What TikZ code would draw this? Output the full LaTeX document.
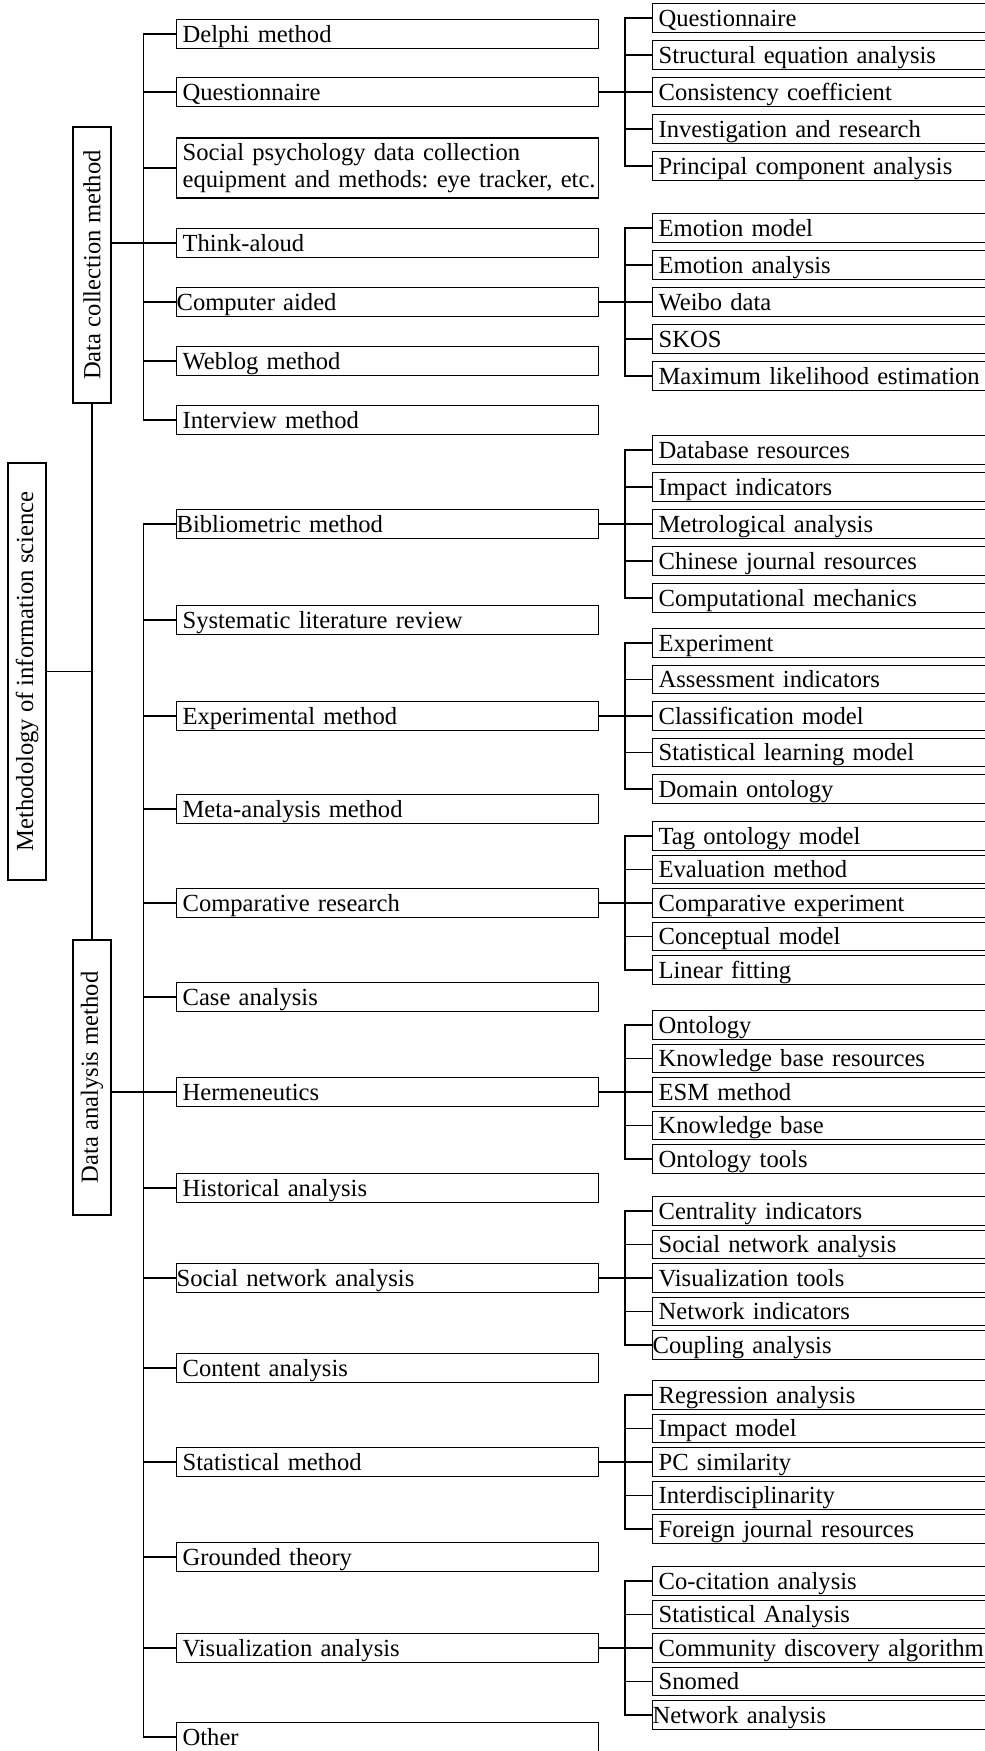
\documentclass[tikz,border=0pt]{standalone}
\usepackage{fontspec}
\setmainfont{Liberation Serif}
\begin{document}
\frenchspacing
\begin{tikzpicture}[x=1pt,y=-1pt,
  every node/.style={font=\fontsize{24.6}{27.5}\selectfont\frenchspacing},
  boxbase/.style={draw, line width=1.2pt, rectangle, inner ysep=0pt, align=left, anchor=west},
  oneline/.style={text height=22.5pt, text depth=6pt},
  mainbox/.style={boxbase, oneline, text width=410pt, inner xsep=6pt},
  mainflush/.style={boxbase, oneline, text width=422pt, inner xsep=0pt},
  subbox/.style={boxbase, oneline, text width=340pt, inner xsep=6pt},
  subflush/.style={boxbase, oneline, text width=352pt, inner xsep=0pt},
  vbox/.style={draw, line width=1.2pt, rectangle, rotate=90, inner sep=0pt, minimum height=38pt},
  conn/.style={line width=1.2pt},
]
\useasboundingbox (0,0) rectangle (985,1751);
\clip (0,0) rectangle (985,1751);

% ---- category boxes (vertical text)
\node[vbox, minimum width=417pt] (m) at (27,671.5) {Methodology of information science};
\node[vbox, minimum width=276pt] (dc) at (92,265) {Data collection method};
\node[vbox, minimum width=275pt] (da) at (92,1077.5) {Data analysis method};

% ---- data collection methods
\node[mainbox] (d1) at (176,34) {Delphi method};
\node[mainbox] (d2) at (176,92) {Questionnaire};
\node[boxbase, text width=410pt, inner xsep=6pt, minimum height=60pt] (d3) at (176,168) {\mbox{Social psychology data collection}\\\mbox{equipment and methods: eye tracker, etc.}};
\node[mainbox] (d4) at (176,243) {Think-aloud};
\node[mainflush] (d5) at (176,302) {Computer aided};
\node[mainbox] (d6) at (176,361) {Weblog method};
\node[mainbox] (d7) at (176,420) {Interview method};

% ---- data analysis methods
\node[mainflush] (a1) at (176,524) {Bibliometric method};
\node[mainbox] (a2) at (176,620) {Systematic literature review};
\node[mainbox] (a3) at (176,716) {Experimental method};
\node[mainbox] (a4) at (176,809) {Meta-analysis method};
\node[mainbox] (a5) at (176,903) {Comparative research};
\node[mainbox] (a6) at (176,997) {Case analysis};
\node[mainbox] (a7) at (176,1092) {Hermeneutics};
\node[mainbox] (a8) at (176,1188) {Historical analysis};
\node[mainflush] (a9) at (176,1278) {Social network analysis};
\node[mainbox] (a10) at (176,1368) {Content analysis};
\node[mainbox] (a11) at (176,1462) {Statistical method};
\node[mainbox] (a12) at (176,1557) {Grounded theory};
\node[mainbox] (a13) at (176,1648) {Visualization analysis};
\node[mainbox] (a14) at (176,1737) {Other};

% ---- sub-items
\node[subbox] (q1) at (652,18) {Questionnaire};
\node[subbox] (q2) at (652,55) {Structural equation analysis};
\node[subbox] (q3) at (652,92) {Consistency coefficient};
\node[subbox] (q4) at (652,129) {Investigation and research};
\node[subbox] (q5) at (652,166) {Principal component analysis};

\node[subbox] (c1) at (652,228) {Emotion model};
\node[subbox] (c2) at (652,265) {Emotion analysis};
\node[subbox] (c3) at (652,302) {Weibo data};
\node[subbox] (c4) at (652,339) {SKOS};
\node[subbox] (c5) at (652,376) {Maximum likelihood estimation};

\node[subbox] (b1) at (652,450) {Database resources};
\node[subbox] (b2) at (652,487) {Impact indicators};
\node[subbox] (b3) at (652,524) {Metrological analysis};
\node[subbox] (b4) at (652,561) {Chinese journal resources};
\node[subbox] (b5) at (652,598) {Computational mechanics};

\node[subbox] (e1) at (652,643) {Experiment};
\node[subbox] (e2) at (652,679.5) {Assessment indicators};
\node[subbox] (e3) at (652,716) {Classification model};
\node[subbox] (e4) at (652,752.5) {Statistical learning model};
\node[subbox] (e5) at (652,789) {Domain ontology};

\node[subbox] (k1) at (652,836) {Tag ontology model};
\node[subbox] (k2) at (652,869.5) {Evaluation method};
\node[subbox] (k3) at (652,903) {Comparative experiment};
\node[subbox] (k4) at (652,936.5) {Conceptual model};
\node[subbox] (k5) at (652,970) {Linear fitting};

\node[subbox] (h1) at (652,1025) {Ontology};
\node[subbox] (h2) at (652,1058.5) {Knowledge base resources};
\node[subbox] (h3) at (652,1092) {ESM method};
\node[subbox] (h4) at (652,1125.5) {Knowledge base};
\node[subbox] (h5) at (652,1159) {Ontology tools};

\node[subbox] (s1) at (652,1211) {Centrality indicators};
\node[subbox] (s2) at (652,1244.5) {Social network analysis};
\node[subbox] (s3) at (652,1278) {Visualization tools};
\node[subbox] (s4) at (652,1311.5) {Network indicators};
\node[subflush] (s5) at (652,1345) {Coupling analysis};

\node[subbox] (t1) at (652,1395) {Regression analysis};
\node[subbox] (t2) at (652,1428.5) {Impact model};
\node[subbox] (t3) at (652,1462) {PC similarity};
\node[subbox] (t4) at (652,1495.5) {Interdisciplinarity};
\node[subbox] (t5) at (652,1529) {Foreign journal resources};

\node[subbox] (v1) at (652,1581) {Co-citation analysis};
\node[subbox] (v2) at (652,1614.5) {Statistical Analysis};
\node[subbox] (v3) at (652,1648) {Community discovery algorithm};
\node[subbox] (v4) at (652,1681.5) {Snomed};
\node[subflush] (v5) at (652,1715) {Network analysis};

% ---- connectors: top level
\draw[conn] (m.south) -- (m.south -| dc.west);
\draw[conn] (dc.west) -- (da.east);
\draw[conn] (dc.south |- d4.west) -- ++(32.5,0);
\draw[conn] (da.south |- a7.west) -- ++(32.5,0);

% ---- data collection bracket
\draw[conn] (d1.west) -- ++(-32.5,0) |- (d7.west);
\foreach \n in {d2,d3,d4,d5,d6} \draw[conn] (\n.west) -- ++(-32.5,0);

% ---- data analysis bracket
\draw[conn] (a1.west) -- ++(-32.5,0) |- (a14.west);
\foreach \n in {a2,a3,a4,a5,a6,a7,a8,a9,a10,a11,a12,a13} \draw[conn] (\n.west) -- ++(-32.5,0);

% ---- sub brackets
\foreach \p/\g in {d2/q,d5/c,a1/b,a3/e,a5/k,a7/h,a9/s,a11/t,a13/v}{
  \draw[conn] (\p.east) -- (\g3.west);
  \draw[conn] (\g1.west) -- ++(-27,0) |- (\g5.west);
  \draw[conn] (\g2.west) -- ++(-27,0);
  \draw[conn] (\g4.west) -- ++(-27,0);
}
\end{tikzpicture}
\end{document}
